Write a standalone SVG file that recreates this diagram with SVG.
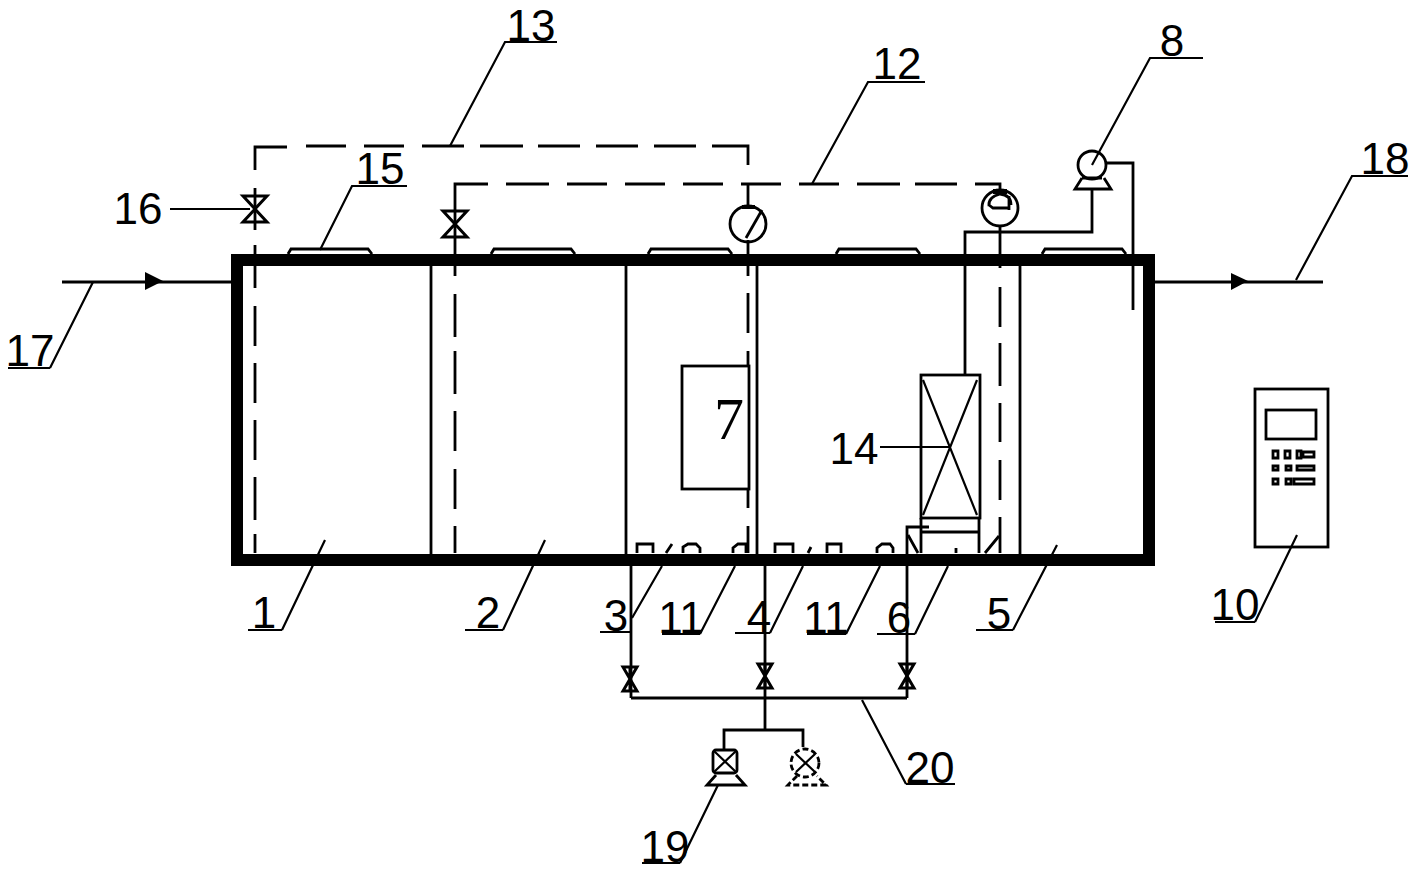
<svg xmlns="http://www.w3.org/2000/svg" width="1412" height="870" viewBox="0 0 1412 870">
<style>
.l{fill:none;stroke:#000;stroke-width:2.8}
.t{fill:none;stroke:#000;stroke-width:2.2}
.v{fill:none;stroke:#000;stroke-width:3}
.n{font-family:"Liberation Sans",Arial,sans-serif;font-size:44px;fill:#000;text-anchor:middle}
</style>
<defs>
<path id="valve" class="v" d="M-12 -13H12L-12 13H12Z"/>
<path id="svalve" class="v" d="M-7 -12H7L-7 12H7ZM0 -12V12"/>
<path id="bump" class="l" d="M0 254L3 249H80L84 254"/>
</defs>
<rect width="1412" height="870" fill="#fff"/>
<g id="connectors">
<path class="l" d="M255 170V147H287M306 146H346M364 146H404M422 146H464M480 146H523M538 146H580M596 146H638M654 146H696M712 146H748V165"/>
<path class="l" d="M255 188V230M255 245V288M255 306V346M255 363V403M255 420V460M255 477V520M255 534V553"/>
<path class="l" d="M748 184V206M748 240V276M748 293V333M748 351V366M748 489V508M748 526V553"/>
<path class="l" d="M488 184H455V276M455 294V337M455 351V394M455 411V451M455 469V509M455 526V553"/>
<path class="l" d="M506 184H549M567 184H607M625 184H665M683 184H723M741 184H781M799 184H839M857 184H900M915 184H957M975 184H1000V190"/>
<path class="l" d="M1000 226V268M1000 287V327M1000 343V386M1000 403V442M1000 460V500M1000 517V553"/>
<path class="l" d="M62 282H232"/>
<path d="M145 272L163 281L145 290Z"/>
<path class="l" d="M1155 282H1323"/>
<path d="M1231 273L1248 281L1231 290Z"/>
<path class="l" d="M1092 189V232H965V375"/>
<path class="l" d="M1106 163H1133V310"/>
<path class="l" d="M631 566V698M765 566V730M907 698V527H929M631 698H907M724 749V730H803V747"/>
</g>
<g id="tank"><rect x="237" y="260" width="912" height="300" fill="none" stroke="#000" stroke-width="12"/>
<path class="l" d="M431 260V555M626 260V555M757 260V555M1020 260V555"/></g>
<g id="diffusers">
<use href="#bump" x="288"/><use href="#bump" x="491"/><use href="#bump" x="648"/><use href="#bump" x="836"/><use href="#bump" x="1042"/>
<path class="l" d="M637 553V544H653V553M683 553V547L688 544H696L700 548V553M733 553V548L738 544H746V553M666 553L672 544M775 553V544H793V553M827 553V544H841V553M808 553L811 547M877 553V548L882 544H890L893 548V553"/>
</g>
<g id="node7"><rect class="l" x="682" y="366" width="67" height="123"/><text x="729" y="439" font-family="Liberation Serif,serif" font-size="60" text-anchor="middle">7</text></g>
<g id="node14"><rect class="l" x="921" y="375" width="59" height="143"/><path class="t" d="M923 380L977 515M977 380L923 515"/><path class="l" d="M921 518V553M979 518V553M921 532H979M908 535L918 553M956 548V553M985 553L999 536"/></g>
<g id="pump9"><circle class="l" cx="1000" cy="208" r="18"/><path d="M993 189H1007V194H993Z"/><path class="l" d="M989 206Q988 197 1000 194Q1011 195 1011 205M989 205L993 208H1008M1009 196V210"/></g>
<g id="pump7"><circle class="l" cx="748" cy="224" r="18"/><path d="M742 205H755V209H742Z"/><path class="l" d="M746 238L762 210"/></g>
<g id="pump8"><circle class="l" cx="1092" cy="165" r="14"/><path class="l" d="M1082 178L1075 189H1111L1104 178M1082 178H1102"/></g>
<g id="valve16"><use href="#valve" x="255" y="209"/></g>
<g id="valve12"><use href="#valve" x="455" y="224"/></g>
<g id="valve-a"><use href="#svalve" x="630" y="679"/></g>
<g id="valve-b"><use href="#svalve" x="765" y="676"/></g>
<g id="valve-c"><use href="#svalve" x="907" y="676"/></g>
<g id="pump19"><rect class="l" x="713" y="750" width="24" height="23" rx="3"/><path class="t" d="M714 751L736 772M736 751L714 772"/><path class="l" d="M716 775L707 785H745L736 775"/></g>
<g id="pump19b"><circle class="l" cx="805" cy="763" r="14" stroke-dasharray="6 3"/><path class="t" d="M796 754L815 772M815 754L796 772"/><path class="l" d="M797 776L788 785H826L817 776" stroke-dasharray="6 3"/></g>
<g id="node10"><rect class="l" x="1255" y="389" width="73" height="158"/><rect class="l" x="1266" y="410" width="50" height="29"/>
<path d="M1273 451h5v7h-5zM1285 451h5v7h-5zM1297 451h4v7h-4zM1303 452h11v5h-11zM1273 466h5v4h-5zM1286 466h5v4h-5zM1297 466h17v4h-17zM1273 479h5v5h-5zM1286 479h5v5h-5zM1294 479h20v5h-20z" fill="#fff" stroke="#000" stroke-width="2.8"/></g>
<g id="leaders">
<path class="t" d="M450 146L505 42H557M812 184L868 82H925M1092 165L1150 58H1203M320 250L352 186H407M170 209H250M880 447H950M50 368H8M50 368L93 282M1296 280L1352 176H1408M282 630H248M282 630L325 540M503 630H465M503 630L545 540M1013 630H976M1013 630L1057 545M1255 622H1215M1255 622L1297 535M632 632H600M632 618L662 566M700 634H662M700 634L735 566M770 633H735M770 633L803 566M846 634H807M846 634L880 566M915 634H877M915 634L948 566M680 863H642M680 863L718 785M906 784H955M906 784L862 700"/>
</g>
<g id="labels">
<text class="n" x="531" y="41">13</text><text class="n" x="897" y="79">12</text><text class="n" x="1172" y="56">8</text><text class="n" x="380" y="184">15</text><text class="n" x="138" y="224">16</text><text class="n" x="1385" y="174">18</text><text class="n" x="30" y="366">17</text><text class="n" x="854" y="464">14</text><text class="n" x="264" y="628">1</text><text class="n" x="488" y="628">2</text><text class="n" x="616" y="631">3</text><text class="n" x="681" y="633">11</text><text class="n" x="759" y="632">4</text><text class="n" x="826" y="633">11</text><text class="n" x="899" y="633">6</text><text class="n" x="999" y="629">5</text><text class="n" x="1235" y="620">10</text><text class="n" x="665" y="862">19</text><text class="n" x="930" y="783">20</text>
</g>
</svg>
